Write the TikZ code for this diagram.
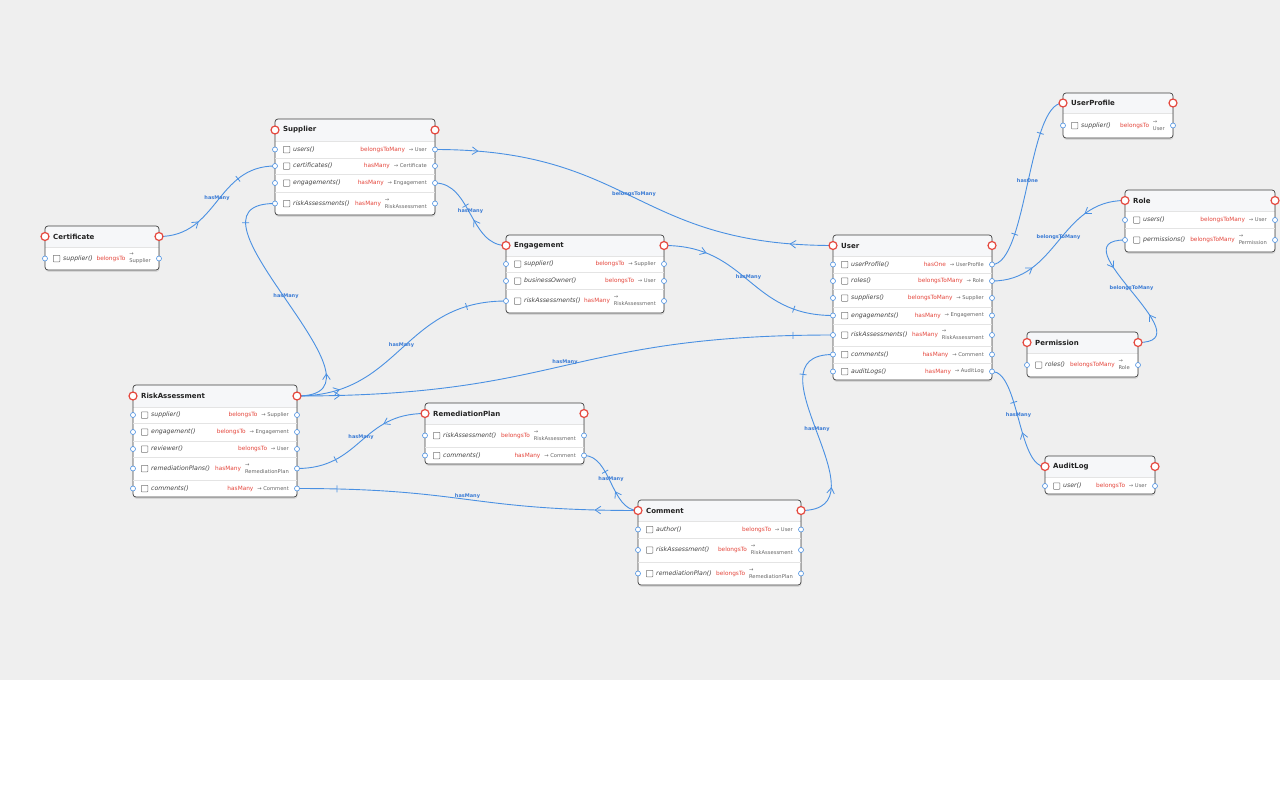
\documentclass[tikz,border=0pt]{standalone}
\usepackage{fontspec}
\setmainfont{DejaVu Sans}
\usetikzlibrary{decorations.markings}
\pgfdeclarelayer{bg}
\pgfdeclarelayer{edges}
\pgfsetlayers{bg,edges,main}
\definecolor{bgc}{HTML}{EFEFEF}
\definecolor{boxline}{HTML}{404040}
\definecolor{headc}{HTML}{F6F7F9}
\definecolor{sepc}{HTML}{E4E4E4}
\definecolor{titlec}{HTML}{222222}
\definecolor{methc}{HTML}{444444}
\definecolor{relc}{HTML}{E5483E}
\definecolor{tgtc}{HTML}{666666}
\definecolor{edgec}{HTML}{4A90E2}
\definecolor{elabc}{HTML}{3A7BD5}
\definecolor{hredc}{HTML}{E5483E}
\definecolor{cbc}{HTML}{777777}
\tikzset{
  er box/.style={draw=boxline, line width=0.7pt, rounded corners=3pt},
  er title/.style={font=\bfseries\fontsize{7}{8}\selectfont, text=titlec, anchor=west, inner sep=0pt},
  meth/.style={font=\itshape\fontsize{6.2}{7}\selectfont, text=methc, anchor=west, inner sep=0pt},
  reltext/.style={font=\fontsize{5.8}{6.5}\selectfont, text=relc, anchor=east, inner sep=0pt},
  tgt/.style={font=\fontsize{5.2}{7.2}\selectfont, text=tgtc, anchor=east, inner sep=0pt, align=left},
  hred/.style={circle, draw=hredc, fill=white, line width=1.2pt, minimum size=8pt, inner sep=0pt},
  hblue/.style={circle, draw=edgec, fill=white, line width=0.6pt, minimum size=5pt, inner sep=0pt},
  cbox/.style={draw=cbc, fill=white, line width=0.5pt, minimum size=6.5pt, inner sep=0pt, rounded corners=0.6pt},
  rel edge/.style={draw=edgec, line width=0.9pt},
  elabel/.style={font=\bfseries\fontsize{5}{6}\selectfont, text=elabc, inner sep=0.5pt},
  one start/.style={postaction={decorate, decoration={markings,
      mark=at position #1 with {\draw[edgec, line width=0.8pt] (0pt,-3.5pt) -- (0pt,3.5pt);}}}},
  one start/.default=40pt,
  one end/.style={postaction={decorate, decoration={markings,
      mark=at position -#1 with {\draw[edgec, line width=0.8pt] (0pt,-3.5pt) -- (0pt,3.5pt);}}}},
  one end/.default=40pt,
  many start/.style={postaction={decorate, decoration={markings,
      mark=at position #1 with {\draw[edgec, line width=0.8pt] (-2.8pt,3.8pt) -- (2.8pt,0pt) -- (-2.8pt,-3.8pt);}}}},
  many start/.default=40pt,
  many end/.style={postaction={decorate, decoration={markings,
      mark=at position -#1 with {\draw[edgec, line width=0.8pt] (2.8pt,3.8pt) -- (-2.8pt,0pt) -- (2.8pt,-3.8pt);}}}},
  many end/.default=40pt,
}
% #1 name, #2 L, #3 T, #4 R, #5 B, #6 header bottom, #7 title
\newcommand\ertable[7]{%
  \fill[black, opacity=0.10, rounded corners=3pt] ({#2+0.5},{#3+1.5}) rectangle ({#4+0.5},{#5+1.8});
  \fill[white, rounded corners=3pt] (#2,#3) rectangle (#4,#5);
  \begin{scope}
    \clip[rounded corners=3pt] (#2,#3) rectangle (#4,#5);
    \fill[headc] (#2,#3) rectangle (#4,#6);
  \end{scope}
  \draw[sepc, line width=0.5pt] (#2,#6) -- (#4,#6);
  \draw[er box] (#2,#3) rectangle (#4,#5);
  \node[er title] (#1-title) at ({#2+8},{(#3+#6)/2}) {#7};
  \node[hred] (#1-hl) at (#2,{(#3+#6)/2}) {};
  \node[hred] (#1-hr) at (#4,{(#3+#6)/2}) {};
}
% #1 id, #2 L, #3 R, #4 y, #5 method, #6 relation, #7 target
\newcommand\errow[7]{%
  \node[cbox] (#1-cb) at ({#2+11.5},#4) {};
  \node[meth] (#1-m) at ({#2+18},#4) {#5};
  \node[tgt] (#1-t) at ({#3-8},#4) {#7};
  \node[reltext] (#1-rel) at ([xshift=-3.5pt]#1-t.west) {#6};
  \node[hblue] (#1-l) at (#2,#4) {};
  \node[hblue] (#1-r) at (#3,#4) {};
}
\newcommand\ersep[3]{\draw[sepc, line width=0.5pt] (#1,#3) -- (#2,#3);}
\begin{document}
\begin{tikzpicture}[x=1pt,y=-1pt]
\useasboundingbox (0,0) rectangle (1280,800);
\begin{pgfonlayer}{bg}
  \fill[white] (0,0) rectangle (1280,800);
  \fill[bgc] (0,0) rectangle (1280,680);
\end{pgfonlayer}

% Certificate
\ertable{cert}{45}{226}{159}{270}{247}{Certificate}
\errow{cert-supplier}{45}{159}{258.5}{supplier()}{belongsTo}{→\\Supplier}

% Supplier
\ertable{sup}{275}{119}{435}{215}{141}{Supplier}
\ersep{275}{435}{158}\ersep{275}{435}{174}\ersep{275}{435}{192}
\errow{sup-users}{275}{435}{149.5}{users()}{belongsToMany}{→ User}
\errow{sup-certificates}{275}{435}{166}{certificates()}{hasMany}{→ Certificate}
\errow{sup-engagements}{275}{435}{183}{engagements()}{hasMany}{→ Engagement}
\errow{sup-riskAssessments}{275}{435}{203.5}{riskAssessments()}{hasMany}{→\\RiskAssessment}

% Engagement
\ertable{eng}{506}{235}{664}{313}{256}{Engagement}
\ersep{506}{664}{272.5}\ersep{506}{664}{289}
\errow{eng-supplier}{506}{664}{264}{supplier()}{belongsTo}{→ Supplier}
\errow{eng-businessOwner}{506}{664}{281}{businessOwner()}{belongsTo}{→ User}
\errow{eng-riskAssessments}{506}{664}{301}{riskAssessments()}{hasMany}{→\\RiskAssessment}

% User
\ertable{user}{833}{235}{992}{380}{256}{User}
\ersep{833}{992}{273}\ersep{833}{992}{289.5}\ersep{833}{992}{307}
\ersep{833}{992}{324}\ersep{833}{992}{346}\ersep{833}{992}{363}
\errow{user-userProfile}{833}{992}{264.5}{userProfile()}{hasOne}{→ UserProfile}
\errow{user-roles}{833}{992}{281}{roles()}{belongsToMany}{→ Role}
\errow{user-suppliers}{833}{992}{298}{suppliers()}{belongsToMany}{→ Supplier}
\errow{user-engagements}{833}{992}{315.5}{engagements()}{hasMany}{→ Engagement}
\errow{user-riskAssessments}{833}{992}{335}{riskAssessments()}{hasMany}{→\\RiskAssessment}
\errow{user-comments}{833}{992}{354.5}{comments()}{hasMany}{→ Comment}
\errow{user-auditLogs}{833}{992}{371.5}{auditLogs()}{hasMany}{→ AuditLog}

% UserProfile
\ertable{up}{1063}{93}{1173}{138}{113}{UserProfile}
\errow{up-supplier}{1063}{1173}{125.5}{supplier()}{belongsTo}{→\\User}

% Role
\ertable{role}{1125}{190}{1275}{252}{211}{Role}
\ersep{1125}{1275}{228.5}
\errow{role-users}{1125}{1275}{220}{users()}{belongsToMany}{→ User}
\errow{role-permissions}{1125}{1275}{240}{permissions()}{belongsToMany}{→\\Permission}

% Permission
\ertable{perm}{1027}{332}{1138}{377}{353}{Permission}
\errow{perm-roles}{1027}{1138}{365}{roles()}{belongsToMany}{→\\Role}

% AuditLog
\ertable{audit}{1045}{456}{1155}{494}{477}{AuditLog}
\errow{audit-user}{1045}{1155}{486}{user()}{belongsTo}{→ User}

% RiskAssessment
\ertable{ra}{133}{385}{297}{497}{407}{RiskAssessment}
\ersep{133}{297}{423.5}\ersep{133}{297}{441}\ersep{133}{297}{457.5}\ersep{133}{297}{480}
\errow{ra-supplier}{133}{297}{415}{supplier()}{belongsTo}{→ Supplier}
\errow{ra-engagement}{133}{297}{432}{engagement()}{belongsTo}{→ Engagement}
\errow{ra-reviewer}{133}{297}{449}{reviewer()}{belongsTo}{→ User}
\errow{ra-remediationPlans}{133}{297}{468.5}{remediationPlans()}{hasMany}{→\\RemediationPlan}
\errow{ra-comments}{133}{297}{488.5}{comments()}{hasMany}{→ Comment}

% RemediationPlan
\ertable{rp}{425}{403}{584}{464}{424}{RemediationPlan}
\ersep{425}{584}{447}
\errow{rp-riskAssessment}{425}{584}{435.5}{riskAssessment()}{belongsTo}{→\\RiskAssessment}
\errow{rp-comments}{425}{584}{455.5}{comments()}{hasMany}{→ Comment}

% Comment
\ertable{com}{638}{500}{801}{585}{521}{Comment}
\ersep{638}{801}{538}\ersep{638}{801}{562}
\errow{com-author}{638}{801}{529.5}{author()}{belongsTo}{→ User}
\errow{com-riskAssessment}{638}{801}{550}{riskAssessment()}{belongsTo}{→\\RiskAssessment}
\errow{com-remediationPlan}{638}{801}{573.5}{remediationPlan()}{belongsTo}{→\\RemediationPlan}

\begin{pgfonlayer}{edges}
\draw[rel edge, one start, many end] (sup-certificates-l.center) .. controls +(-59,0) and +(59,0) .. (cert-hr.center)
  node[elabel, pos=0.5, yshift=3.5pt] {hasMany};
\draw[rel edge, many start, many end] (sup-users-r.center) .. controls +(199,0) and +(-199,0) .. (user-hl.center)
  node[elabel, pos=0.5, yshift=3.5pt] {belongsToMany};
\draw[rel edge, one start, many end] (sup-engagements-r.center) .. controls +(36,0) and +(-36,0) .. (eng-hl.center)
  node[elabel, pos=0.5, yshift=3.5pt] {hasMany};
\draw[rel edge, one start, many end] (sup-riskAssessments-l.center) .. controls +(-110,0) and +(110,0) .. (ra-hr.center)
  node[elabel, pos=0.5, yshift=3.5pt] {hasMany};
\draw[rel edge, one start, many end] (eng-riskAssessments-l.center) .. controls +(-104,0) and +(104,0) .. (ra-hr.center)
  node[elabel, pos=0.5, yshift=3.5pt] {hasMany};
\draw[rel edge, one start, many end] (user-riskAssessments-l.center) .. controls +(-268,0) and +(268,0) .. (ra-hr.center)
  node[elabel, pos=0.5, yshift=3.5pt] {hasMany};
\draw[rel edge, one start, many end] (user-engagements-l.center) .. controls +(-84,0) and +(84,0) .. (eng-hr.center)
  node[elabel, pos=0.5, yshift=3.5pt] {hasMany};
\draw[rel edge, one start, one end] (user-userProfile-r.center) .. controls +(35,0) and +(-35,0) .. (up-hl.center)
  node[elabel, pos=0.5, yshift=3.5pt] {hasOne};
\draw[rel edge, many start, many end] (user-roles-r.center) .. controls +(66,0) and +(-66,0) .. (role-hl.center)
  node[elabel, pos=0.5, yshift=3.5pt] {belongsToMany};
\draw[rel edge, many start, many end] (role-permissions-l.center) .. controls +(-70,0) and +(70,0) .. (perm-hr.center)
  node[elabel, pos=0.5, yshift=3.5pt] {belongsToMany};
\draw[rel edge, one start, many end] (user-auditLogs-r.center) .. controls +(27,0) and +(-27,0) .. (audit-hl.center)
  node[elabel, pos=0.5, yshift=3.5pt] {hasMany};
\draw[rel edge, one start, many end] (user-comments-l.center) .. controls +(-90,0) and +(90,0) .. (com-hr.center)
  node[elabel, pos=0.5, yshift=3.5pt] {hasMany};
\draw[rel edge, one start=28pt, many end=28pt] (rp-comments-r.center) .. controls +(27,0) and +(-27,0) .. (com-hl.center)
  node[elabel, pos=0.5, yshift=3.5pt] {hasMany};
\draw[rel edge, one start, many end] (ra-remediationPlans-r.center) .. controls +(64,0) and +(-64,0) .. (rp-hl.center)
  node[elabel, pos=0.5, yshift=3.5pt] {hasMany};
\draw[rel edge, one start, many end] (ra-comments-r.center) .. controls +(170,0) and +(-170,0) .. (com-hl.center)
  node[elabel, pos=0.5, yshift=3.5pt] {hasMany};
\end{pgfonlayer}
\end{tikzpicture}
\end{document}
